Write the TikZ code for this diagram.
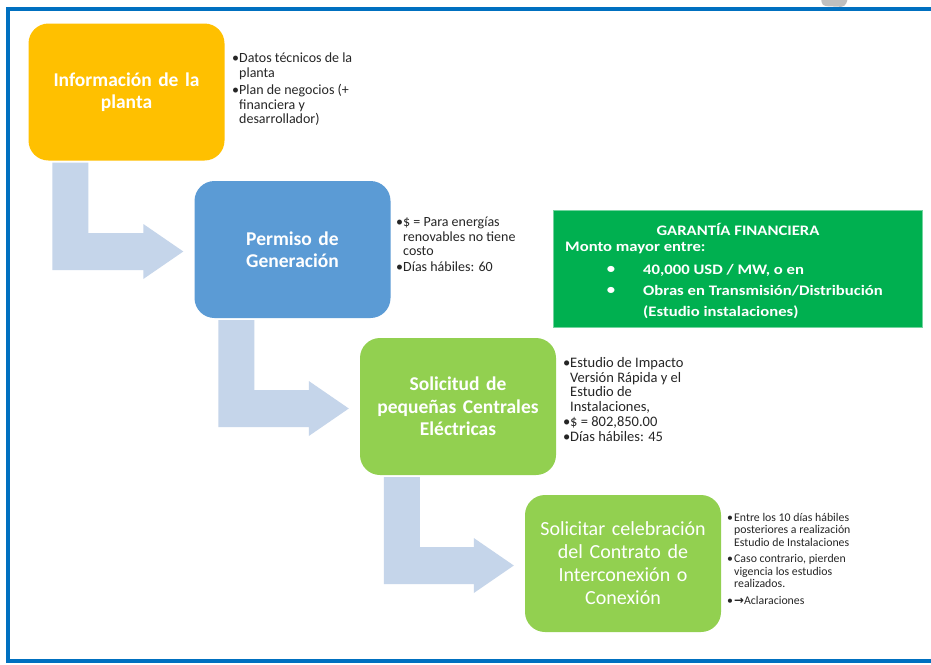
\documentclass[tikz,border=0pt]{standalone}
\usepackage{fontspec}
\setmainfont{Carlito}
\newfontfamily\gfont[FakeStretch=1.15]{Carlito}
\newfontfamily\dejavu{DejaVu Sans}
\usetikzlibrary{calc}
\definecolor{frameblue}{HTML}{0070C0}
\definecolor{cyellow}{HTML}{FFC000}
\definecolor{cblue}{HTML}{5B9BD5}
\definecolor{cgreen}{HTML}{92D050}
\definecolor{carrow}{HTML}{C5D5EA}
\definecolor{cdgreen}{HTML}{00B050}
\definecolor{ctext}{HTML}{262626}
\newcommand\bl{\makebox[7pt][l]{\textbullet}}
\newcommand\ind{\hspace*{7pt}}
\newcommand\bentarr[2]{%
  \fill[carrow] let \p1=(#1.south west), \p2=(#2.west) in
    (\x1+24pt,\y1-2pt) -- (\x1+60pt,\y1-2pt) -- (\x1+60pt,\y2+16.5pt)
    -- (\x2-51pt,\y2+16.5pt) -- (\x2-51pt,\y2+25.5pt) -- (\x2-11pt,\y2-2pt)
    -- (\x2-51pt,\y2-29.5pt) -- (\x2-51pt,\y2-20.5pt) -- (\x1+24pt,\y2-20.5pt) -- cycle;}
\begin{document}
\begin{tikzpicture}[x=1pt,y=-1pt,
  box/.style={rounded corners=20pt, minimum width=196pt, minimum height=137pt,
     text width=190pt, align=center, text=white, inner sep=0pt},
  boxlab/.style={font=\bfseries\fontsize{19.5}{22.5}\selectfont},
  bultext/.style={anchor=north west, align=left, text=ctext, inner sep=0pt,
     font=\fontsize{14}{14.5}\selectfont},
  gtext/.style={text=white, inner sep=0pt, font=\gfont\bfseries\fontsize{14.5}{16}\selectfont}]
\useasboundingbox (0,0) rectangle (931,664);
\clip (0,0) rectangle (931,664);
\fill[white] (0,0) rectangle (931,664);
% gray blob top right
\fill[black!25, rounded corners=4pt] (820,-12) -- (850,-8) -- (845,7) -- (822,6) -- cycle;
% frame
\draw[frameblue, line width=4pt] (945,9) -- (8,9) -- (8,661) -- (945,661);
% boxes
\node[box, fill=cyellow, boxlab] (b1) at (126.5,92) {Información de la\\ planta};
\node[box, fill=cblue, boxlab] (b2) at (292.5,249.5) {Permiso de\\ Generación};
\node[box, fill=cgreen, boxlab] (b3) at (458,406.5) {Solicitud de\\ pequeñas Centrales\\ Eléctricas};
\node[box, fill=cgreen, font=\fontsize{20}{23}\selectfont] (b4) at (623,563.5) {Solicitar celebración\\ del Contrato de\\ Interconexión o\\ Conexión};
% bent arrows
\bentarr{b1}{b2}
\bentarr{b2}{b3}
\bentarr{b3}{b4}
% bullet texts
\node[bultext] (t1) at (232,53) {\bl Datos técnicos de la\\ \ind planta\\[3pt] \bl Plan de negocios (+\\ \ind financiera y\\ \ind desarrollador)};
\node[bultext] (t2) at (396,217) {\bl \$ = Para energías\\ \ind renovables no tiene\\ \ind costo\\[1pt] \bl Días hábiles: 60};
\node[bultext, font=\fontsize{14.5}{14.8}\selectfont] (t3) at (563,357) {\bl Estudio de Impacto\\ \ind Versión Rápida y el\\ \ind Estudio de\\ \ind Instalaciones,\\ \bl \$ = 802,850.00\\ \bl Días hábiles: 45};
\node[bultext, font=\fontsize{11.8}{12.5}\selectfont] (t4) at (727,513) {\bl Entre los 10 días hábiles\\ \ind posteriores a realización\\ \ind Estudio de Instalaciones\\[4pt] \bl Caso contrario, pierden\\ \ind vigencia los estudios\\ \ind realizados.\\[4pt] \bl{\dejavu\bfseries →}Aclaraciones};
% garantia box
\node[fill=cdgreen, draw=cdgreen!55!white, line width=0.8pt, minimum width=369pt, minimum height=117pt, inner sep=0pt] (g) at (737.5,268.5) {};
\node[gtext] (g0) at (738,229) {GARANTÍA FINANCIERA};
\node[gtext, anchor=west] (g1) at (565,248) {Monto mayor entre:};
\node[gtext] (gb1) at (611,270) {\textbullet};
\node[gtext] (gb2) at (611,291) {\textbullet};
\node[gtext, anchor=west] (g2) at (643,270) {40,000 USD / MW, o en};
\node[gtext, anchor=west] (g3) at (643,291) {Obras en Transmisión/Distribución};
\node[gtext, anchor=west] (g4) at (643,312) {(Estudio instalaciones)};
\end{tikzpicture}
\end{document}
